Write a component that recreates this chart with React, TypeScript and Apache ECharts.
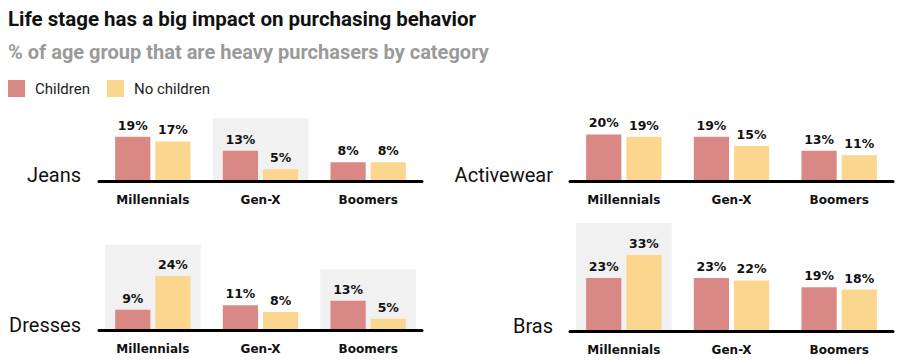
import React, { useEffect, useRef } from "react";
import * as echarts from "echarts";

const titleText = "Life stage has a big impact on purchasing behavior";
const subtitleText = "% of age group that are heavy purchasers by category";
const seriesNames = ["Children", "No children"];
const categories = ["Millennials", "Gen-X", "Boomers"];
const panelNames = ["Jeans", "Activewear", "Dresses", "Bras"];

const childrenJeans = [19, 13, 8];
const noChildrenJeans = [17, 5, 8];
const childrenActivewear = [20, 19, 13];
const noChildrenActivewear = [19, 15, 11];
const childrenDresses = [9, 11, 13];
const noChildrenDresses = [24, 8, 5];
const childrenBras = [23, 23, 19];
const noChildrenBras = [33, 22, 18];

// grey highlight boxes behind notable groups (height in % units)
const highlightJeans = [null, 27, null];
const highlightActivewear = [null, null, null];
const highlightDresses = [38, null, 27];
const highlightBras = [47, null, null];

const childrenData = [childrenJeans, childrenActivewear, childrenDresses, childrenBras];
const noChildrenData = [noChildrenJeans, noChildrenActivewear, noChildrenDresses, noChildrenBras];
const highlightData = [highlightJeans, highlightActivewear, highlightDresses, highlightBras];

const COLORS = { children: "#D98886", noChildren: "#FBD68E", highlight: "#F1F1F1" };
const Y_MAX = 50;

// layout per panel: left, axis y (bottom), plot height
const layouts = [
  { left: 99, bottom: 181, height: 116.5, labelX: 81, labelY: 175 },
  { left: 570, bottom: 181, height: 116.5, labelX: 553, labelY: 175 },
  { left: 99, bottom: 330, height: 112.5, labelX: 81, labelY: 325 },
  { left: 570, bottom: 331, height: 115, labelX: 553, labelY: 326 },
];

export default function App() {
  const ref = useRef<HTMLDivElement>(null);
  useEffect(() => {
    if (!ref.current) return;
    const chart = echarts.init(ref.current, undefined, { renderer: "svg" });
    const grids = layouts.map((l) => ({
      left: l.left,
      top: l.bottom - l.height,
      width: 323,
      height: l.height,
    }));
    const xAxes: any[] = [];
    const yAxes: any[] = [];
    const series: any[] = [];
    layouts.forEach((_, i) => {
      xAxes.push({
        type: "category",
        gridIndex: i,
        data: categories,
        z: 5,
        axisLine: { lineStyle: { color: "#000", width: 3 } },
        axisTick: { show: false },
        axisLabel: {
          margin: 13,
          fontSize: 12,
          fontWeight: "bold",
          fontFamily: "DejaVu Sans",
          color: "#111",
        },
      });
      yAxes.push({ type: "value", gridIndex: i, min: 0, max: Y_MAX, show: false });
    });
    layouts.forEach((_, i) => {
      xAxes.push({ type: "category", gridIndex: i, data: categories, show: false });
    });
    const labelStyle = {
      show: true,
      position: "top",
      distance: 5,
      formatter: "{c}%",
      fontSize: 12.5,
      fontWeight: "bold",
      fontFamily: "DejaVu Sans",
      color: "#111",
    };
    layouts.forEach((_, i) => {
      series.push({
        name: "highlight",
        type: "bar",
        xAxisIndex: 4 + i,
        yAxisIndex: i,
        data: highlightData[i],
        barWidth: "89%",
        itemStyle: { color: COLORS.highlight },
        silent: true,
        z: 0,
      });
      series.push({
        name: seriesNames[0],
        type: "bar",
        xAxisIndex: i,
        yAxisIndex: i,
        data: childrenData[i],
        barGap: "14%",
        barCategoryGap: "30%",
        itemStyle: { color: COLORS.children },
        label: labelStyle,
        z: 2,
      });
      series.push({
        name: seriesNames[1],
        type: "bar",
        xAxisIndex: i,
        yAxisIndex: i,
        data: noChildrenData[i],
        barGap: "14%",
        barCategoryGap: "30%",
        itemStyle: { color: COLORS.noChildren },
        label: labelStyle,
        z: 2,
      });
    });
    const graphic = layouts.map((l, i) => ({
      type: "text",
      style: {
        text: panelNames[i],
        x: l.labelX,
        y: l.labelY,
        align: "right",
        verticalAlign: "middle",
        font: "20px Roboto",
        fill: "#111",
      },
    }));
    chart.setOption({
      animation: false,
      title: [
        {
          text: titleText,
          left: 8,
          top: 8,
          padding: 0,
          textStyle: { fontSize: 20.5, fontWeight: "bold", color: "#111", fontFamily: "Roboto" },
        },
        {
          text: subtitleText,
          left: 8,
          top: 42,
          padding: 0,
          textStyle: { fontSize: 20, fontWeight: "bold", color: "#9a9a9a", fontFamily: "Roboto" },
        },
      ],
      legend: {
        data: seriesNames,
        left: 8,
        top: 80,
        padding: 0,
        icon: "rect",
        itemWidth: 17,
        itemHeight: 17,
        itemGap: 17,
        selectedMode: false,
        textStyle: { fontSize: 15, color: "#222", fontFamily: "Roboto", padding: [0, 0, 0, 5] },
      },
      grid: grids,
      xAxis: xAxes,
      yAxis: yAxes,
      series,
      graphic,
    });
    return () => chart.dispose();
  }, []);
  return (
    <div
      ref={ref}
      style={{ position: "fixed", left: 0, top: 0, width: 900, height: 361, background: "#fff" }}
    />
  );
}
